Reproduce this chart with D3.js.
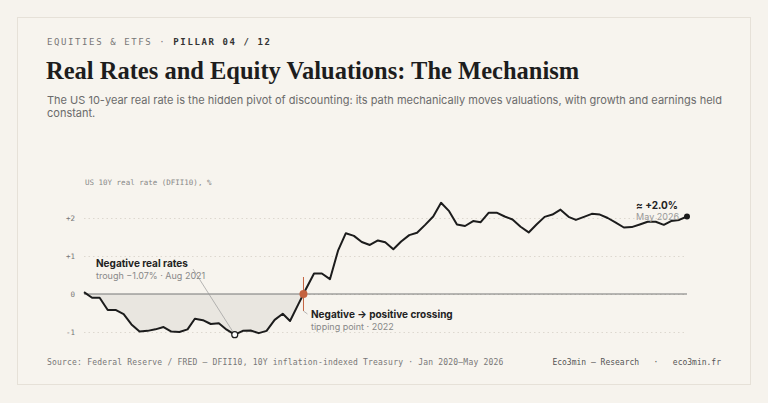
<!DOCTYPE html>
<html><head><meta charset="utf-8">
<script src="https://cdn.jsdelivr.net/npm/d3@7"></script>
<style>body{margin:0;background:#f6f3ed;}svg{display:block}</style>
</head><body><svg id="c" width="768" height="403"></svg>
<script>
const startYear = 2020, startMonth = 0;
const realRate = [0.05,-0.1,-0.1,-0.42,-0.42,-0.53,-0.8,-0.99,-0.97,-0.93,-0.87,-0.99,-1.0,-0.93,-0.65,-0.69,-0.79,-0.77,-0.94,-1.07,-0.97,-0.96,-1.03,-0.97,-0.68,-0.52,-0.71,-0.28,0.13,
0.54,0.54,0.39,1.14,1.6,1.53,1.37,1.29,1.41,1.36,1.18,1.38,1.55,1.61,1.82,2.04,2.4,2.18,1.83,1.79,1.92,1.89,2.14,2.14,2.04,1.96,1.77,1.62,1.83,2.03,2.09,2.22,2.03,1.95,2.03,2.11,2.09,2.0,1.88,1.75,1.76,1.83,1.9,1.9,1.82,1.92,1.95,2.04];
const yTicks = [2,1,0,-1];
const yTickLabels = ["+2","+1","0","-1"];
const dates = realRate.map((v,i)=>new Date(startYear, startMonth+i, 1));
const data = realRate.map((v,i)=>({d:dates[i], v}));

const svg = d3.select("#c");
svg.append("rect").attr("x",17.5).attr("y",17.5).attr("width",733).attr("height",367).attr("fill","#f7f4ee").attr("stroke","#e6e1d8");
const mono = "'DejaVu Sans Mono', monospace";
svg.append("text").attr("x",47).attr("y",45).attr("font-family",mono).attr("font-size",9).attr("letter-spacing",1.6).attr("fill","#777")
  .text("EQUITIES & ETFS  ·  ").append("tspan").attr("fill","#333").attr("font-weight","bold").text("PILLAR 04 / 12");
svg.append("text").attr("x",46).attr("y",79).attr("font-family","'Liberation Serif', serif").attr("font-weight","bold").attr("font-size",24.5).attr("fill","#1d1d1d")
  .text("Real Rates and Equity Valuations: The Mechanism");
const sub = svg.append("g").attr("font-family","Inter, sans-serif").attr("font-size",11).attr("fill","#6b6b6b");
sub.append("text").attr("x",47).attr("y",104).text("The US 10-year real rate is the hidden pivot of discounting: its path mechanically moves valuations, with growth and earnings held");
sub.append("text").attr("x",47).attr("y",117).text("constant.");

const x = d3.scaleTime().domain([dates[0], dates[dates.length-1]]).range([84,687]);
const y = d3.scaleLinear().domain([-1,2]).range([332,218]);

svg.append("text").attr("x",85).attr("y",185).attr("font-family",mono).attr("font-size",7.5).attr("fill","#888").text("US 10Y real rate (DFII10), %");

const ax = svg.append("g").attr("transform","translate(84,0)")
  .call(d3.axisLeft(y).tickValues(yTicks).tickFormat((d,i)=>yTickLabels[i]).tickSize(-603).tickPadding(9));
ax.select(".domain").remove();
ax.selectAll(".tick line").attr("stroke","#d6d1c7").attr("stroke-dasharray","1.5,3").attr("stroke-width",0.8);
ax.selectAll(".tick text").attr("font-family",mono).attr("font-size",7.5).attr("fill","#777");

svg.append("path").datum(data).attr("fill","#e9e6e0")
  .attr("d", d3.area().x(d=>x(d.d)).y0(y(0)).y1(d=>y(Math.min(d.v,0))));
svg.append("line").attr("x1",84).attr("x2",687).attr("y1",y(0)).attr("y2",y(0)).attr("stroke","#777").attr("stroke-width",1.2);
svg.append("path").datum(data).attr("fill","none").attr("stroke","#1c1c1c").attr("stroke-width",2).attr("stroke-linejoin","round")
  .attr("d", d3.line().x(d=>x(d.d)).y(d=>y(d.v)));

let ci = data.findIndex((d,i)=>i>20 && d.v>0 && data[i-1].v<=0);
const a=data[ci-1], b=data[ci];
const t = -a.v/(b.v-a.v);
const cx = x(a.d)+t*(x(b.d)-x(a.d));
svg.append("line").attr("x1",cx).attr("x2",cx).attr("y1",y(0)-17).attr("y2",y(0)+17).attr("stroke","#c4623f").attr("stroke-width",1);
svg.append("circle").attr("cx",cx).attr("cy",y(0)).attr("r",4).attr("fill","#c4623f");
svg.append("line").attr("x1",cx).attr("x2",cx+4).attr("y1",y(0)+17).attr("y2",y(0)+20).attr("stroke","#999").attr("stroke-width",0.7);
const ann = svg.append("g").attr("font-family","Inter, sans-serif");
ann.append("text").attr("x",311).attr("y",318).attr("font-size",10).attr("font-weight","bold").attr("fill","#222").text("Negative → positive crossing");
ann.append("text").attr("x",311).attr("y",330).attr("font-size",9).attr("fill","#888").text("tipping point · 2022");

const mi = d3.minIndex(data, d=>d.v);
const tx = x(data[mi].d), ty = y(data[mi].v);
svg.append("line").attr("x1",193).attr("y1",269).attr("x2",tx).attr("y2",ty).attr("stroke","#999").attr("stroke-width",0.7);
svg.append("circle").attr("cx",tx).attr("cy",ty).attr("r",3).attr("fill","#fff").attr("stroke","#1c1c1c").attr("stroke-width",1.2);
ann.append("text").attr("x",96).attr("y",267).attr("font-size",10).attr("font-weight","bold").attr("fill","#222").text("Negative real rates");
ann.append("text").attr("x",96).attr("y",279).attr("font-size",9).attr("fill","#888").text("trough −1.07% · Aug 2021");

const e = data[data.length-1];
svg.append("circle").attr("cx",x(e.d)).attr("cy",y(e.v)).attr("r",3).attr("fill","#1c1c1c");
ann.append("text").attr("x",678).attr("y",209).attr("text-anchor","end").attr("font-size",10).attr("font-weight","bold").attr("fill","#222").text("≈ +2.0%");
ann.append("text").attr("x",679).attr("y",220).attr("text-anchor","end").attr("font-size",9).attr("fill","#999").text("May 2026");

svg.append("text").attr("x",47).attr("y",365).attr("font-family",mono).attr("font-size",8).attr("letter-spacing",0.2).attr("fill","#777")
  .text("Source: Federal Reserve / FRED — DFII10, 10Y inflation-indexed Treasury · Jan 2020–May 2026");
svg.append("text").attr("x",721).attr("y",365).attr("text-anchor","end").attr("font-family",mono).attr("font-size",8).attr("fill","#555")
  .attr("xml:space","preserve").style("white-space","pre")
  .text("Eco3min — Research   ·   eco3min.fr");
</script></body></html>
